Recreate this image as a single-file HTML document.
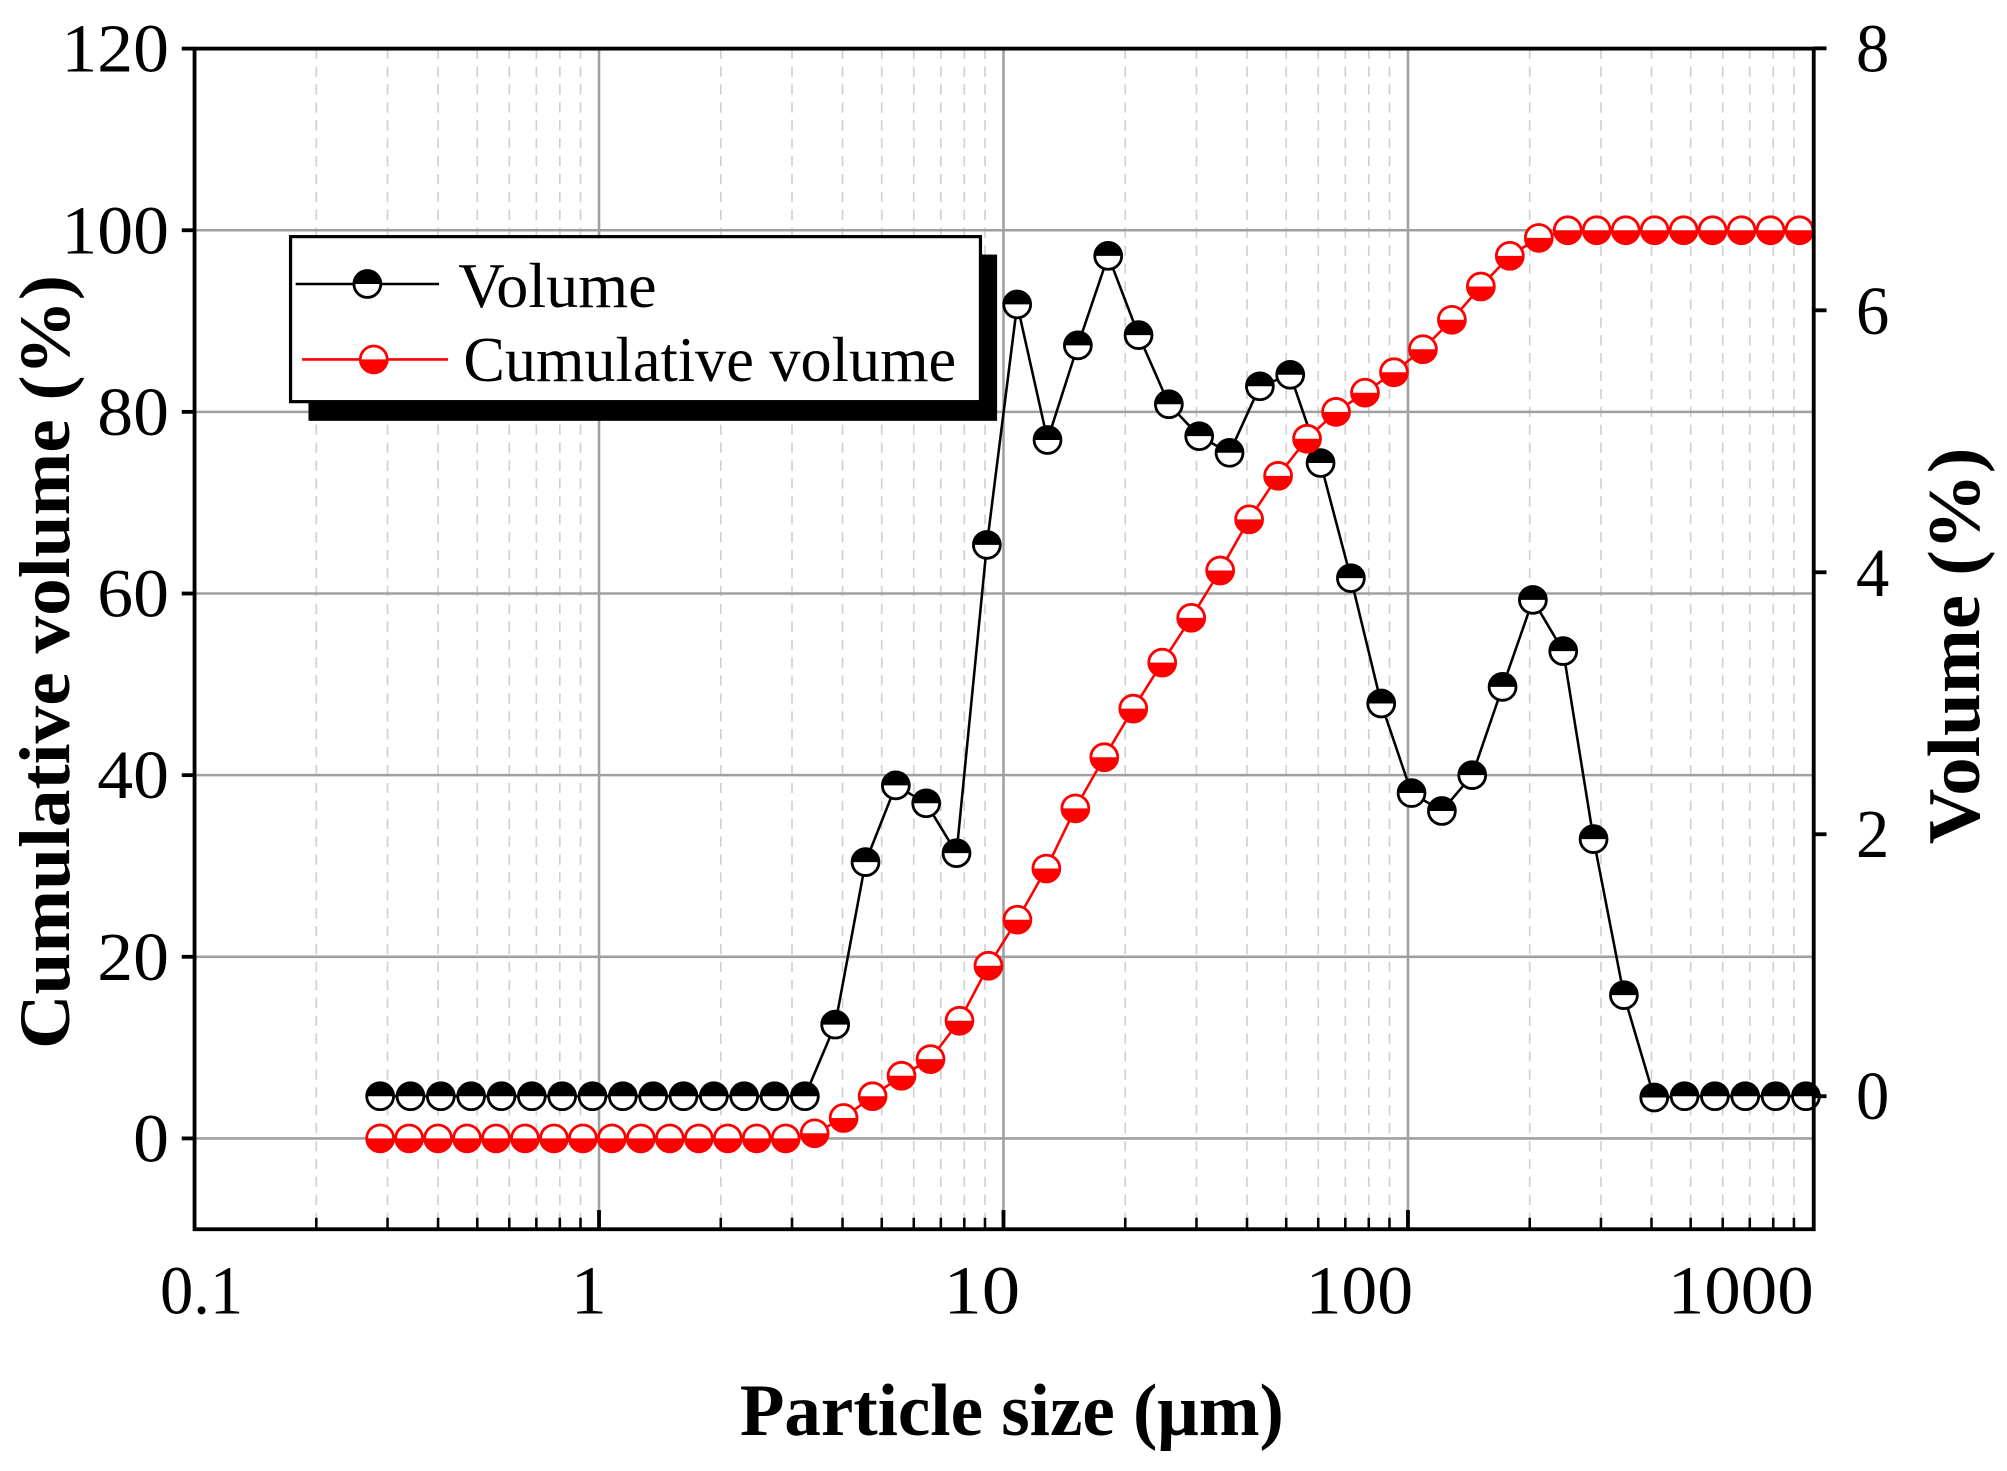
<!DOCTYPE html>
<html><head><meta charset="utf-8"><style>html,body{margin:0;padding:0;background:#fff}svg{display:block}</style></head>
<body>
<svg id="s" xmlns="http://www.w3.org/2000/svg" width="2007" height="1471" viewBox="0 0 1568 1150" preserveAspectRatio="none" font-family="Liberation Serif, serif">
<rect width="1568" height="1150" fill="#fff"/>
<g id="grid"></g>
<g id="series"></g>
<rect x="152" y="38" width="1265" height="923" fill="none" stroke="#000" stroke-width="3"/>
<g id="ticks" stroke="#000" stroke-width="3"></g>
<g font-size="54" fill="#000">
<text x="48" y="56" textLength="84" lengthAdjust="spacingAndGlyphs">120</text>
<text x="48" y="198" textLength="84" lengthAdjust="spacingAndGlyphs">100</text>
<text x="76" y="340" textLength="56" lengthAdjust="spacingAndGlyphs">80</text>
<text x="76" y="482" textLength="56" lengthAdjust="spacingAndGlyphs">60</text>
<text x="76" y="624" textLength="56" lengthAdjust="spacingAndGlyphs">40</text>
<text x="76" y="766" textLength="56" lengthAdjust="spacingAndGlyphs">20</text>
<text x="104" y="908" textLength="28" lengthAdjust="spacingAndGlyphs">0</text>
<text x="1450" y="56" textLength="26" lengthAdjust="spacingAndGlyphs">8</text>
<text x="1450" y="261" textLength="26" lengthAdjust="spacingAndGlyphs">6</text>
<text x="1450" y="466" textLength="26" lengthAdjust="spacingAndGlyphs">4</text>
<text x="1450" y="670" textLength="26" lengthAdjust="spacingAndGlyphs">2</text>
<text x="1450" y="875" textLength="26" lengthAdjust="spacingAndGlyphs">0</text>
<text x="125" y="1027" textLength="65" lengthAdjust="spacingAndGlyphs">0.1</text>
<text x="446" y="1027" textLength="28" lengthAdjust="spacingAndGlyphs">1</text>
<text x="737" y="1027" textLength="60" lengthAdjust="spacingAndGlyphs">10</text>
<text x="1020" y="1027" textLength="84" lengthAdjust="spacingAndGlyphs">100</text>
<text x="1303" y="1027" textLength="114" lengthAdjust="spacingAndGlyphs">1000</text>
</g>
<text x="578" y="1122" font-size="58" font-weight="bold" textLength="425" lengthAdjust="spacingAndGlyphs">Particle size (μm)</text>
<text transform="translate(54,820) rotate(-90)" font-size="56" font-weight="bold" textLength="605" lengthAdjust="spacingAndGlyphs">Cumulative volume (%)</text>
<text transform="translate(1546,660) rotate(-90)" font-size="58" font-weight="bold" textLength="310" lengthAdjust="spacingAndGlyphs">Volume (%)</text>
<rect x="241" y="199" width="538" height="130" fill="#000"/>
<rect x="227" y="185" width="539" height="129" fill="#fff" stroke="#000" stroke-width="2.5"/>
<line x1="231" y1="222" x2="343" y2="222" stroke="#000" stroke-width="2"/>
<line x1="236" y1="281" x2="350" y2="281" stroke="#f00" stroke-width="2"/>
<g id="leg"></g>
<text x="358" y="240" font-size="50" textLength="155" lengthAdjust="spacingAndGlyphs">Volume</text>
<text x="362" y="298" font-size="50" textLength="385" lengthAdjust="spacingAndGlyphs">Cumulative volume</text>
</svg>
<script>
var NS="http://www.w3.org/2000/svg";
function el(p,t,a){var e=document.createElementNS(NS,t);for(var k in a)e.setAttribute(k,a[k]);p.appendChild(e);return e;}
var g=document.getElementById('grid'),tk=document.getElementById('ticks'),se=document.getElementById('series');
var X0=152,D=316;
for(var d=0;d<4;d++){for(var m=2;m<=9;m++){var x=X0+D*(d+Math.log10(m));el(g,'line',{x1:x,y1:38,x2:x,y2:961,stroke:'#d0d0d0','stroke-width':1.3,'stroke-dasharray':'8,6'});el(tk,'line',{x1:x,y1:961,x2:x,y2:952,'stroke-width':2});}}
for(var d=1;d<4;d++){var x=X0+D*d;el(g,'line',{x1:x,y1:38,x2:x,y2:961,stroke:'#a0a0a0','stroke-width':2});el(tk,'line',{x1:x,y1:961,x2:x,y2:946});}
for(var v=0;v<=100;v+=20){var y=890-v*7.1;el(g,'line',{x1:152,y1:y,x2:1417,y2:y,stroke:'#a0a0a0','stroke-width':2});}
for(var v=0;v<=120;v+=20){var y=890-v*7.1;el(tk,'line',{x1:152,y1:y,x2:142,y2:y});}
for(var v=0;v<=8;v+=2){var y=857-v*102.4;el(tk,'line',{x1:1417,y1:y,x2:1427,y2:y});}
var vy=[];for(var i=0;i<15;i++)vy.push(857);
vy=vy.concat([801,674,614,628,667,426,238,344,270,200,262,316,341,354,302,293,362,452,550,620,634,606,537,469,509,656,778,858,857,857,857,857,857]);
var cy=[];for(var i=0;i<15;i++)cy.push(890);
cy=cy.concat([886,874,857,841,828,798,755,719,679,632,592,554,518,483,446,406,372,343,322,307,291,273,250,224,200,186]);
while(cy.length<50)cy.push(180);
function marker(p,x,y,col,topFill){var r=10.5;
el(p,'circle',{cx:x,cy:y,r:r,fill:'#fff'});
var path=topFill?'M'+(x-r)+','+y+' A'+r+','+r+' 0 0 1 '+(x+r)+','+y+' Z':'M'+(x-r)+','+y+' A'+r+','+r+' 0 0 0 '+(x+r)+','+y+' Z';
el(p,'path',{d:path,fill:col});
el(p,'circle',{cx:x,cy:y,r:r,fill:'none',stroke:col,'stroke-width':2.2});}
var pts=[];for(var i=0;i<vy.length;i++)pts.push((297+23.7*i)+','+vy[i]);
el(se,'polyline',{points:pts.join(' '),fill:'none',stroke:'#000','stroke-width':2});
var pc=[];for(var i=0;i<cy.length;i++)pc.push((297+22.63*i)+','+cy[i]);
el(se,'polyline',{points:pc.join(' '),fill:'none',stroke:'#f00','stroke-width':2});
for(var i=0;i<vy.length;i++)marker(se,297+23.7*i,vy[i],'#000',true);
for(var i=0;i<cy.length;i++)marker(se,297+22.63*i,cy[i],'#f00',false);
var lg=document.getElementById('leg');marker(lg,287,222,'#000',true);marker(lg,292,281,'#f00',false);
</script>
</body></html>
